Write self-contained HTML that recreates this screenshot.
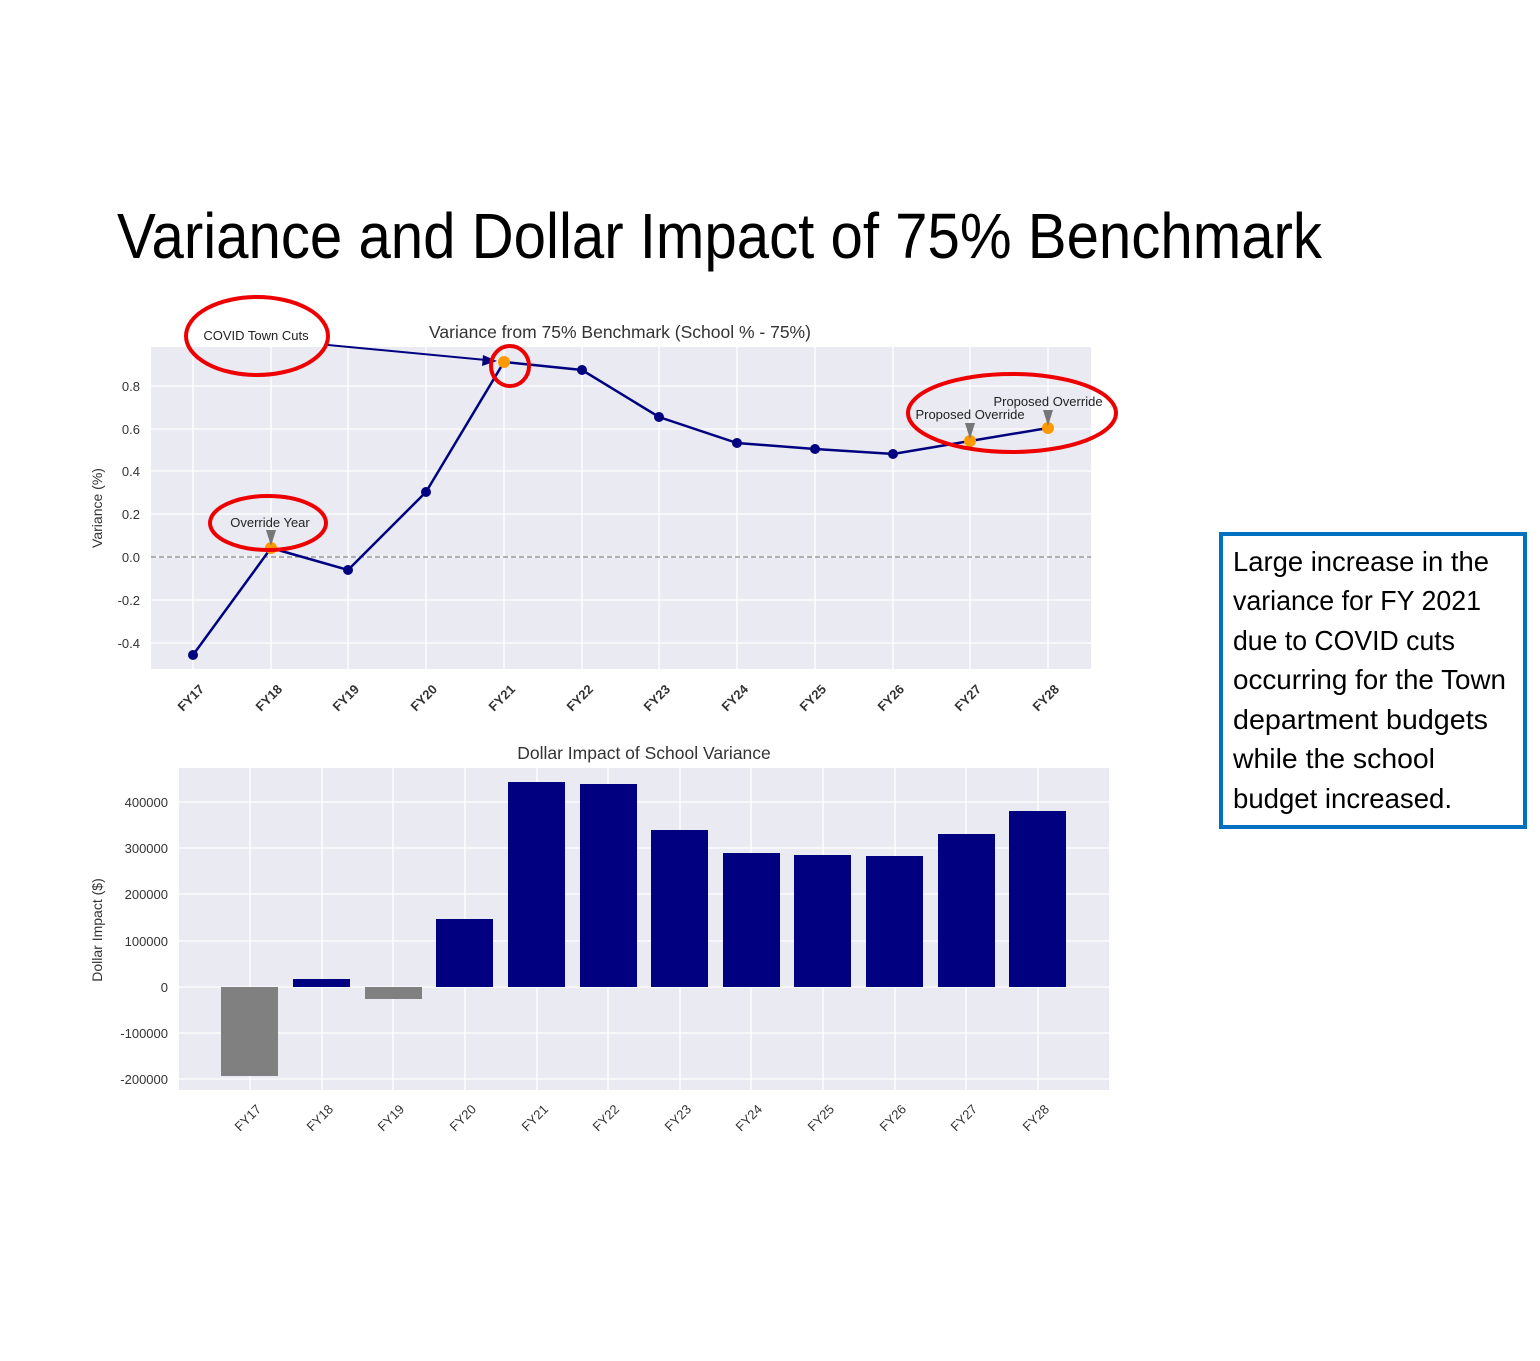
<!DOCTYPE html>
<html><head><meta charset="utf-8"><style>body{margin:0;background:#fff}svg{display:block}</style></head><body>
<svg width="1540" height="1361" viewBox="0 0 1540 1361" xmlns="http://www.w3.org/2000/svg" font-family="Liberation Sans, sans-serif">
<text x="117" y="258" font-size="64" textLength="1205" lengthAdjust="spacingAndGlyphs" fill="#000">Variance and Dollar Impact of 75% Benchmark</text>
<!-- top chart -->
<rect x="151" y="347" width="940" height="322" fill="#eaeaf2"/>
<g stroke="#fff" stroke-width="1.3">
<line x1="151" x2="1091" y1="386" y2="386"/><line x1="151" x2="1091" y1="429" y2="429"/><line x1="151" x2="1091" y1="471" y2="471"/><line x1="151" x2="1091" y1="514" y2="514"/><line x1="151" x2="1091" y1="557" y2="557"/><line x1="151" x2="1091" y1="600" y2="600"/><line x1="151" x2="1091" y1="643" y2="643"/>
<line y1="347" y2="669" x1="193" x2="193"/><line y1="347" y2="669" x1="271" x2="271"/><line y1="347" y2="669" x1="348" x2="348"/><line y1="347" y2="669" x1="426" x2="426"/><line y1="347" y2="669" x1="504" x2="504"/><line y1="347" y2="669" x1="582" x2="582"/><line y1="347" y2="669" x1="659" x2="659"/><line y1="347" y2="669" x1="737" x2="737"/><line y1="347" y2="669" x1="815" x2="815"/><line y1="347" y2="669" x1="893" x2="893"/><line y1="347" y2="669" x1="970" x2="970"/><line y1="347" y2="669" x1="1048" x2="1048"/>
</g>
<line x1="151" x2="1091" y1="557" y2="557" stroke="#888" stroke-dasharray="5,3" stroke-width="1.2"/>
<g font-size="13" fill="#333" text-anchor="end">
<text x="140" y="391">0.8</text><text x="140" y="434">0.6</text><text x="140" y="476">0.4</text><text x="140" y="519">0.2</text><text x="140" y="562">0.0</text><text x="140" y="605">-0.2</text><text x="140" y="648">-0.4</text>
</g>
<text transform="translate(102,508) rotate(-90)" font-size="14" fill="#333" text-anchor="middle">Variance (%)</text>
<text x="620" y="338" font-size="17.5" fill="#333" text-anchor="middle">Variance from 75% Benchmark (School % - 75%)</text>
<g font-size="13" fill="#333" font-weight="bold" text-anchor="end">
<text transform="translate(205,690) rotate(-45)">FY17</text><text transform="translate(283,690) rotate(-45)">FY18</text><text transform="translate(360,690) rotate(-45)">FY19</text><text transform="translate(438,690) rotate(-45)">FY20</text><text transform="translate(516,690) rotate(-45)">FY21</text><text transform="translate(594,690) rotate(-45)">FY22</text><text transform="translate(671,690) rotate(-45)">FY23</text><text transform="translate(749,690) rotate(-45)">FY24</text><text transform="translate(827,690) rotate(-45)">FY25</text><text transform="translate(905,690) rotate(-45)">FY26</text><text transform="translate(982,690) rotate(-45)">FY27</text><text transform="translate(1060,690) rotate(-45)">FY28</text>
</g>
<polyline fill="none" stroke="#000080" stroke-width="2.5" points="193,655 271,548 348,570 426,492 504,362 582,370 659,417 737,443 815,449 893,454 970,441 1048,428"/>
<g fill="#000080"><circle cx="193" cy="655" r="5"/><circle cx="348" cy="570" r="5"/><circle cx="426" cy="492" r="5"/><circle cx="582" cy="370" r="5"/><circle cx="659" cy="417" r="5"/><circle cx="737" cy="443" r="5"/><circle cx="815" cy="449" r="5"/><circle cx="893" cy="454" r="5"/></g>
<g fill="#ff9900"><circle cx="271" cy="548" r="6"/><circle cx="504" cy="362" r="6"/><circle cx="970" cy="441" r="6"/><circle cx="1048" cy="428" r="6"/></g>
<g fill="#777"><polygon points="266,530 276,530 271,546"/><polygon points="965,423 975,423 970,439"/><polygon points="1043,410 1053,410 1048,426"/></g>
<line x1="328" y1="345" x2="486" y2="360" stroke="#000080" stroke-width="2"/><polygon points="497,361 483,355 482,366" fill="#000080"/>
<g font-size="13" fill="#222" text-anchor="middle">
<text x="256" y="340">COVID Town Cuts</text><text x="270" y="527">Override Year</text><text x="970" y="419">Proposed Override</text><text x="1048" y="406">Proposed Override</text>
</g>
<!-- bottom chart -->
<rect x="179" y="768" width="930" height="322" fill="#eaeaf2"/>
<g stroke="#fff" stroke-width="1.3">
<line x1="179" x2="1109" y1="802" y2="802"/><line x1="179" x2="1109" y1="848" y2="848"/><line x1="179" x2="1109" y1="894" y2="894"/><line x1="179" x2="1109" y1="941" y2="941"/><line x1="179" x2="1109" y1="987" y2="987"/><line x1="179" x2="1109" y1="1033" y2="1033"/><line x1="179" x2="1109" y1="1079" y2="1079"/>
<line y1="768" y2="1090" x1="250" x2="250"/><line y1="768" y2="1090" x1="322" x2="322"/><line y1="768" y2="1090" x1="393" x2="393"/><line y1="768" y2="1090" x1="465" x2="465"/><line y1="768" y2="1090" x1="537" x2="537"/><line y1="768" y2="1090" x1="608" x2="608"/><line y1="768" y2="1090" x1="680" x2="680"/><line y1="768" y2="1090" x1="751" x2="751"/><line y1="768" y2="1090" x1="823" x2="823"/><line y1="768" y2="1090" x1="895" x2="895"/><line y1="768" y2="1090" x1="966" x2="966"/><line y1="768" y2="1090" x1="1038" x2="1038"/>
</g>
<g fill="#808080"><rect x="221" y="987" width="57" height="89"/><rect x="365" y="987" width="57" height="12"/></g>
<g fill="#000080">
<rect x="293" y="979" width="57" height="8"/><rect x="436" y="919" width="57" height="68"/><rect x="508" y="782" width="57" height="205"/><rect x="580" y="784" width="57" height="203"/><rect x="651" y="830" width="57" height="157"/><rect x="723" y="853" width="57" height="134"/><rect x="794" y="855" width="57" height="132"/><rect x="866" y="856" width="57" height="131"/><rect x="938" y="834" width="57" height="153"/><rect x="1009" y="811" width="57" height="176"/>
</g>
<g font-size="13" fill="#333" text-anchor="end">
<text x="168" y="807">400000</text><text x="168" y="853">300000</text><text x="168" y="899">200000</text><text x="168" y="946">100000</text><text x="168" y="992">0</text><text x="168" y="1038">-100000</text><text x="168" y="1084">-200000</text>
</g>
<text transform="translate(102,930) rotate(-90)" font-size="14" fill="#333" text-anchor="middle">Dollar Impact ($)</text>
<text x="644" y="759" font-size="17.5" fill="#333" text-anchor="middle">Dollar Impact of School Variance</text>
<g font-size="13" fill="#333" text-anchor="end">
<text transform="translate(262,1110) rotate(-45)">FY17</text><text transform="translate(334,1110) rotate(-45)">FY18</text><text transform="translate(405,1110) rotate(-45)">FY19</text><text transform="translate(477,1110) rotate(-45)">FY20</text><text transform="translate(549,1110) rotate(-45)">FY21</text><text transform="translate(620,1110) rotate(-45)">FY22</text><text transform="translate(692,1110) rotate(-45)">FY23</text><text transform="translate(763,1110) rotate(-45)">FY24</text><text transform="translate(835,1110) rotate(-45)">FY25</text><text transform="translate(907,1110) rotate(-45)">FY26</text><text transform="translate(978,1110) rotate(-45)">FY27</text><text transform="translate(1050,1110) rotate(-45)">FY28</text>
</g>
<!-- red ellipses -->
<g fill="none" stroke="#ee0000" stroke-width="4">
<ellipse cx="257" cy="336" rx="71" ry="39"/><ellipse cx="268" cy="523" rx="58" ry="27"/><ellipse cx="510" cy="366" rx="19" ry="20"/><ellipse cx="1012" cy="413" rx="104" ry="39"/>
</g>
<!-- text box -->
<rect x="1221" y="534" width="304" height="293" fill="#fff" stroke="#0070c0" stroke-width="4"/>
<g font-size="28" fill="#000">
<text x="1233" y="571" textLength="256" lengthAdjust="spacingAndGlyphs">Large increase in the</text>
<text x="1233" y="610" textLength="248" lengthAdjust="spacingAndGlyphs">variance for FY 2021</text>
<text x="1233" y="650" textLength="222" lengthAdjust="spacingAndGlyphs">due to COVID cuts</text>
<text x="1233" y="689" textLength="273" lengthAdjust="spacingAndGlyphs">occurring for the Town</text>
<text x="1233" y="729" textLength="255" lengthAdjust="spacingAndGlyphs">department budgets</text>
<text x="1233" y="768" textLength="202" lengthAdjust="spacingAndGlyphs">while the school</text>
<text x="1233" y="808" textLength="219" lengthAdjust="spacingAndGlyphs">budget increased.</text>
</g>
</svg>
</body></html>
